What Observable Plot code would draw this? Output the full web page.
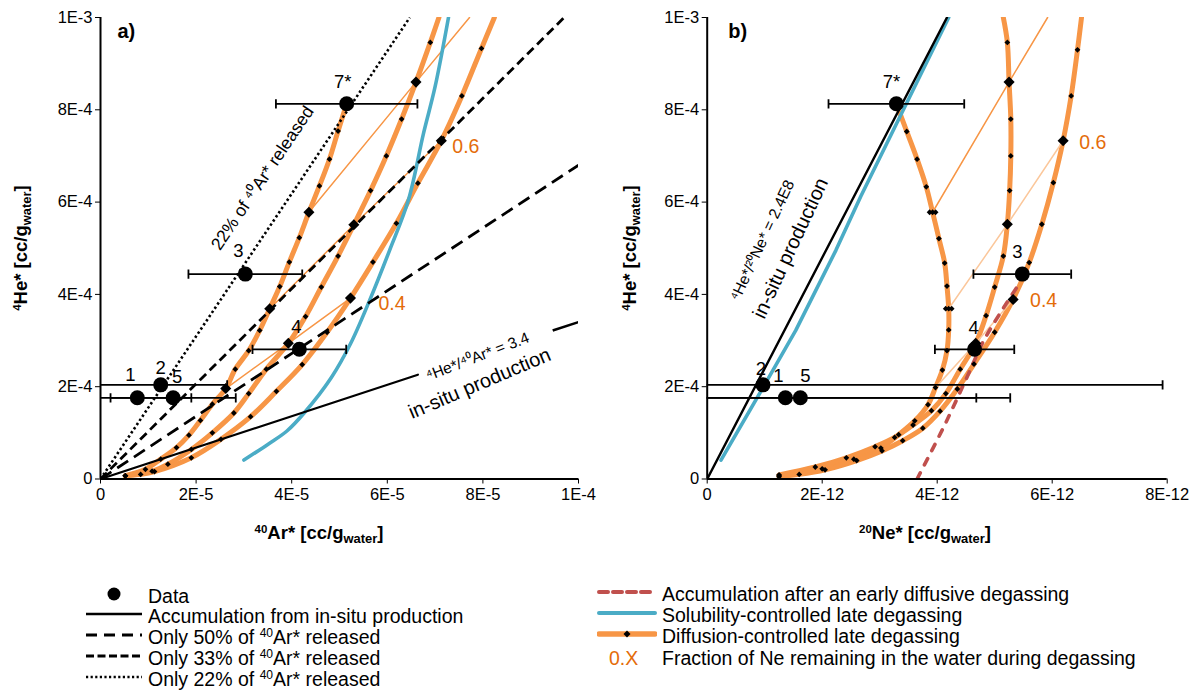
<!DOCTYPE html>
<html>
<head>
<meta charset="utf-8">
<script src="https://cdn.jsdelivr.net/npm/d3@7"></script>
<script src="https://cdn.jsdelivr.net/npm/@observablehq/plot@0.6"></script>
<style>
  body { margin: 0; background: #fff; }
  #wrap { position: relative; width: 1204px; height: 693px; font-family: "Liberation Sans", Arial, sans-serif; color: #000; }
  .panel { position: absolute; top: 0; }
  .title { position: absolute; white-space: nowrap; font-weight: bold; font-size: 18.5px; transform: translate(-50%, -50%); }
  .ytitle { transform: translate(-50%, -50%) rotate(-90deg); }
  .title sup { font-size: 0.62em; vertical-align: 0.55em; line-height: 0; }
  .title sub { font-size: 0.7em; vertical-align: -0.3em; line-height: 0; }
  .leg { position: absolute; white-space: nowrap; font-size: 19.5px; line-height: 20px; transform: translateY(-50%); }
  .leg sup { font-size: 0.62em; vertical-align: 0.6em; line-height: 0; }
  .sw { position: absolute; transform: translateY(-50%); }
</style>
</head>
<body>
<div id="wrap"></div>
<script>
// ---------------- DATA ----------------
// Panel a: x = 40Ar* in units of 1E-5 cc/g, y = 4He* in units of 1E-4 cc/g
// Panel b: x = 20Ne* in units of 1E-12 cc/g, y = 4He* in units of 1E-4 cc/g
const yTicks = [0, 2, 4, 6, 8, 10];
const yTickLabels = ["0", "2E-4", "4E-4", "6E-4", "8E-4", "1E-3"];
const aXTicks = [0, 2, 4, 6, 8, 10];
const aXTickLabels = ["0", "2E-5", "4E-5", "6E-5", "8E-5", "1E-4"];
const bXTicks = [0, 2, 4, 6, 8];
const bXTickLabels = ["0", "2E-12", "4E-12", "6E-12", "8E-12"];

// samples
const sampleIds = ["1", "2", "3", "4", "5", "7*"];
const sampleHe = [1.76, 2.04, 4.44, 2.81, 1.76, 8.13];
const sampleAr = [0.77, 1.26, 3.03, 4.16, 1.52, 5.15];
const sampleArErr = [1.13, 1.39, 1.19, 0.98, 1.31, 1.48];
const sampleNe = [1.36, 0.97, 5.48, 4.65, 1.62, 3.29];
const sampleNeErr = [3.32, 6.95, 0.85, 0.69, 3.65, 1.18];

// panel a reference lines (4He*/40Ar* = 3.4 and released fractions)
const aInSitu1 = [[0, 0], [6.64, 2.26]];
const aInSitu2 = [[9.46, 3.22], [10, 3.4]];
const aRel50 = [[0, 0], [10, 6.8]];
const aRel33 = [[0, 0], [9.7, 10]];
const aRel22 = [[0, 0], [6.47, 10]];
// panel a solubility-controlled late degassing
const aSolub = [[3.0, 0.41], [3.5, 0.75], [3.9, 1.04], [4.26, 1.43], [4.83, 2.2], [5.23, 2.93], [5.63, 3.87], [6.05, 4.96], [6.44, 6.04], [6.76, 7.5], [7.0, 8.5], [7.28, 10]];
// panel a diffusion-controlled late degassing
const aDiffA = [[0.52, 0.07], [0.94, 0.21], [1.26, 0.43], [1.59, 0.68], [1.85, 0.95], [2.09, 1.27], [2.34, 1.62], [2.62, 1.96], [2.82, 2.38], [3.10, 2.78], [3.33, 3.22], [3.54, 3.69], [3.75, 4.17], [3.95, 4.70], [4.16, 5.23], [4.36, 5.78], [4.58, 6.35], [4.79, 6.93], [4.97, 7.54], [5.15, 8.13]];
const aDiffB = [[0.52, 0.07], [1.08, 0.17], [1.41, 0.32], [1.90, 0.64], [2.34, 1.00], [2.79, 1.43], [3.10, 1.85], [3.47, 2.38], [3.93, 2.94], [4.29, 3.52], [4.62, 4.16], [4.97, 4.83], [5.30, 5.51], [5.65, 6.25], [5.98, 7.00], [6.30, 7.80], [6.60, 8.60], [6.90, 9.46], [7.08, 10]];
const aDiffC = [[0.52, 0.07], [0.84, 0.10], [1.13, 0.16], [1.90, 0.46], [2.52, 0.86], [3.14, 1.35], [3.68, 1.90], [4.22, 2.48], [4.74, 3.18], [5.23, 3.92], [5.70, 4.70], [6.19, 5.54], [6.64, 6.41], [7.13, 7.33], [7.56, 8.30], [7.97, 9.33], [8.24, 10]];
// fraction of Ne remaining (iso-lines) panel a
const aIso04 = [[2.62, 1.96], [3.93, 2.94], [5.23, 3.92]];
const aIso06 = [[3.54, 3.69], [5.30, 5.51], [7.13, 7.33]];
const aIso08 = [[4.36, 5.78], [6.60, 8.60], [7.72, 10]];

// panel b reference lines
const bInSitu = [[0, 0], [4.17, 10]];
const bSolub = [[0.24, 0.41], [0.98, 2.0], [1.54, 3.22], [2.24, 4.96], [2.67, 6.12], [3.45, 8.1], [4.2, 10]];
const bEarly = [[3.65, 0], [4.11, 1.12], [4.49, 2.13], [4.81, 3.0], [5.16, 3.72], [5.42, 4.22]];
const bDiffL = [[3.29, 8.13], [3.47, 7.53], [3.65, 6.93], [3.81, 6.33], [3.92, 5.78], [4.03, 5.21], [4.13, 4.68], [4.17, 4.18], [4.20, 3.69], [4.20, 3.23], [4.17, 2.78], [4.09, 2.36], [3.97, 1.98], [3.84, 1.61], [3.61, 1.26], [3.33, 0.96], [3.02, 0.67], [2.55, 0.43], [2.0, 0.22], [1.25, 0.07]];
const bDiffM = [[5.15, 10], [5.22, 9.46], [5.25, 8.60], [5.28, 7.80], [5.28, 7.00], [5.26, 6.25], [5.22, 5.52], [5.15, 4.83], [5.00, 4.16], [4.85, 3.54], [4.67, 2.94], [4.40, 2.38], [4.15, 1.85], [3.90, 1.48], [3.58, 1.17], [3.26, 0.90], [2.92, 0.70], [2.42, 0.46], [1.88, 0.26], [1.25, 0.09]];
const bDiffR = [[6.51, 10], [6.44, 9.30], [6.33, 8.30], [6.19, 7.33], [6.02, 6.42], [5.82, 5.52], [5.60, 4.69], [5.32, 3.89], [5.00, 3.18], [4.64, 2.49], [4.35, 1.95], [4.05, 1.47], [3.75, 1.10], [3.40, 0.83], [3.04, 0.61], [2.60, 0.40], [2.05, 0.20], [1.60, 0.10], [1.25, 0.05]];
const bIso04 = [[3.97, 1.98], [4.67, 2.94], [5.32, 3.89]];
const bIso06 = [[4.20, 3.69], [5.22, 5.52], [6.19, 7.33]];
const bIso08 = [[3.92, 5.78], [5.25, 8.60], [5.92, 10]];

// ---------------- STYLE / LAYOUT ----------------
const C = { orange: "#F79646", pale: "#FBC79B", blue: "#4BACC6", red: "#C0504D", lbl: "#E46C0A" };
const FONT = "'Liberation Sans', Arial, sans-serif";
const W = 602, H = 555, MT = 17, MB = 76.5;

const samples = sampleIds.map((id, i) => ({ id, he: sampleHe[i], ar: sampleAr[i], arErr: sampleArErr[i], ne: sampleNe[i], neErr: sampleNeErr[i] }));

const vbar = { draw(ctx, size) { const r = Math.sqrt(size / Math.PI); ctx.moveTo(0, -r); ctx.lineTo(0, r); } };
const px = d => d[0], py = d => d[1];
const fmt = (ticks, labels) => d => labels[ticks.indexOf(d)];

function line(data, o) { return Plot.line(data, { x: px, y: py, clip: true, ...o }); }
function diamonds(curves) {
  const pts = curves.flatMap(c => c.filter(p => p[1] < 9.99));
  return Plot.dot(pts, { x: px, y: py, symbol: "diamond2", r: 2.6, fill: "black", clip: true });
}
function errorBars(key, errKey) {
  const caps = samples.flatMap(s => [{ x: s[key] - s[errKey], y: s.he }, { x: s[key] + s[errKey], y: s.he }]);
  return [
    Plot.ruleY(samples, { y: "he", x1: s => s[key] - s[errKey], x2: s => s[key] + s[errKey], stroke: "black", strokeWidth: 1.8, clip: true }),
    Plot.dot(caps, { x: "x", y: "y", symbol: vbar, r: 4.6, stroke: "black", strokeWidth: 1.8, clip: true })
  ];
}
function pointLabels(key, offsets) {
  return samples.map(s => Plot.text([s], { x: key, y: "he", text: "id", dx: offsets[s.id][0], dy: offsets[s.id][1], fontSize: 18.5, fill: "black" }));
}
function axes(xTicks, xLabels) {
  return [
    Plot.axisX({ ticks: xTicks, tickFormat: fmt(xTicks, xLabels), tickSize: 5, tickPadding: 4, label: null, fontSize: 16.5 }),
    Plot.axisY({ ticks: yTicks, tickFormat: fmt(yTicks, yTickLabels), tickSize: 5, tickPadding: 3, label: null, fontSize: 16.5 }),
    Plot.ruleY([0], { strokeWidth: 2 }),
    Plot.ruleX([0], { strokeWidth: 2 })
  ];
}
const baseStyle = { fontFamily: FONT, fontSize: "16px", color: "black", background: "white", overflow: "visible" };

const orangeThick = { stroke: C.orange, strokeWidth: 5, curve: "catmull-rom", strokeLinejoin: "round", strokeLinecap: "round" };
const dashed = o => ({ stroke: "black", strokeLinecap: "butt", ...o });

// ---------- panel a ----------
const aLabelOff = { "1": [-7, -23], "2": [0, -17], "3": [-7, -23], "4": [-3, -22], "5": [4, -21], "7*": [-4, -22] };
const plotA = Plot.plot({
  width: W, height: H, marginLeft: 100, marginRight: 24, marginTop: MT, marginBottom: MB,
  x: { domain: [0, 10] }, y: { domain: [0, 10] },
  style: baseStyle,
  marks: [
    line(aDiffA, orangeThick), line(aDiffB, orangeThick), line(aDiffC, orangeThick),
    line(aIso04, { stroke: C.orange, strokeWidth: 1.5 }),
    line(aIso06, { stroke: C.orange, strokeWidth: 1.5 }),
    line(aIso08, { stroke: C.orange, strokeWidth: 1.5 }),
    line(aSolub, { stroke: C.blue, strokeWidth: 3.6, curve: "catmull-rom" }),
    line(aInSitu1, { stroke: "black", strokeWidth: 2.2 }),
    line(aInSitu2, { stroke: "black", strokeWidth: 2.6, strokeLinecap: "butt" }),
    line(aRel50, dashed({ strokeWidth: 2.8, strokeDasharray: "13,7" })),
    line(aRel33, dashed({ strokeWidth: 2.8, strokeDasharray: "9,5" })),
    line(aRel22, dashed({ strokeWidth: 2.6, strokeDasharray: "2.4,2.6" })),
    diamonds([aDiffA, aDiffB, aDiffC]),
    Plot.dot([aIso04, aIso06, aIso08].flatMap(c => c.filter(p => p[1] < 9.99)), { x: px, y: py, symbol: "diamond2", r: 5, fill: "black" }),
    ...errorBars("ar", "arErr"),
    Plot.dot(samples, { x: "ar", y: "he", r: 7.5, fill: "black" }),
    ...pointLabels("ar", aLabelOff),
    Plot.text([aIso06[2]], { x: px, y: py, text: () => "0.6", dx: 11, dy: 6, textAnchor: "start", fill: C.lbl, fontSize: 19.5 }),
    Plot.text([aIso04[2]], { x: px, y: py, text: () => "0.4", dx: 28, dy: 6, textAnchor: "start", fill: C.lbl, fontSize: 19.5 }),
    Plot.text(["22% of \u2074\u2070Ar* released"], { x: 3.39, y: 6.52, text: d => d, rotate: -56, fontSize: 17.5, fill: "black" }),
    Plot.text(["\u2074He*/\u2074\u2070Ar* = 3.4"], { x: 7.89, y: 2.65, text: d => d, rotate: -21, fontSize: 15.5, fill: "black" }),
    Plot.text(["in-situ production"], { x: 7.93, y: 2.07, text: d => d, rotate: -23, fontSize: 20, fill: "black" }),
    Plot.text(["a)"], { frameAnchor: "top-left", text: d => d, dx: 17, dy: 6, fontSize: 20, fontWeight: "bold", fill: "black" }),
    ...axes(aXTicks, aXTickLabels)
  ]
});

// ---------- panel b ----------
const bLabelOff = { "1": [-7, -22], "2": [-2, -16], "3": [-5, -22], "4": [-1, -21], "5": [5, -22], "7*": [-5, -22] };
const plotB = Plot.plot({
  width: W, height: H, marginLeft: 104.7, marginRight: 37.3, marginTop: MT, marginBottom: MB,
  x: { domain: [0, 8] }, y: { domain: [0, 10] },
  style: baseStyle,
  marks: [
    line(bDiffL, orangeThick), line(bDiffM, orangeThick), line(bDiffR, orangeThick),
    line(bIso04, { stroke: C.pale, strokeWidth: 1.5 }),
    line(bIso06, { stroke: C.pale, strokeWidth: 1.5 }),
    line(bIso08, { stroke: C.orange, strokeWidth: 1.5 }),
    line(bSolub, { stroke: C.blue, strokeWidth: 3.6 }),
    line(bInSitu, { stroke: "black", strokeWidth: 2.4 }),
    line(bEarly, { stroke: C.red, strokeWidth: 3.6, strokeDasharray: "7,9", curve: "catmull-rom" }),
    diamonds([bDiffL, bDiffM, bDiffR]),
    Plot.dot([bIso04[1], bIso04[2], bIso06[1], bIso06[2], bIso08[1]], { x: px, y: py, symbol: "diamond2", r: 5, fill: "black" }),
    Plot.dot([bIso06[0], bIso08[0]], { x: px, y: py, symbol: "diamond2", r: 2.6, fill: "black", dx: -3 }),
    Plot.dot([bIso06[0], bIso08[0]], { x: px, y: py, symbol: "diamond2", r: 2.6, fill: "black", dx: 3 }),
    ...errorBars("ne", "neErr"),
    Plot.dot(samples, { x: "ne", y: "he", r: 7.5, fill: "black" }),
    ...pointLabels("ne", bLabelOff),
    Plot.text([bIso06[2]], { x: px, y: py, text: () => "0.6", dx: 16, dy: 2, textAnchor: "start", fill: C.lbl, fontSize: 19.5 }),
    Plot.text([bIso04[2]], { x: px, y: py, text: () => "0.4", dx: 17, dy: 1, textAnchor: "start", fill: C.lbl, fontSize: 19.5 }),
    Plot.text(["\u2074He*/\u00b2\u2070Ne* = 2.4E8"], { x: 0.96, y: 5.17, text: d => d, rotate: -65, fontSize: 15.5, fill: "black" }),
    Plot.text(["in-situ production"], { x: 1.45, y: 5.0, text: d => d, rotate: -65, fontSize: 20, fill: "black" }),
    Plot.text(["b)"], { frameAnchor: "top-left", text: d => d, dx: 21, dy: 6, fontSize: 20, fontWeight: "bold", fill: "black" }),
    ...axes(bXTicks, bXTickLabels)
  ]
});

const wrap = document.getElementById("wrap");
const pa = document.createElement("div"); pa.className = "panel"; pa.style.left = "0px"; pa.appendChild(plotA); wrap.appendChild(pa);
const pb = document.createElement("div"); pb.className = "panel"; pb.style.left = "602px"; pb.appendChild(plotB); wrap.appendChild(pb);

// ---------- axis titles ----------
function addTitle(html, x, y, cls) {
  const d = document.createElement("div");
  d.className = "title" + (cls ? " " + cls : "");
  d.style.left = x + "px"; d.style.top = y + "px";
  d.innerHTML = html; wrap.appendChild(d);
}
addTitle("<sup>40</sup>Ar* [cc/g<sub>water</sub>]", 319, 533);
addTitle("<sup>20</sup>Ne* [cc/g<sub>water</sub>]", 925, 533);
addTitle("<sup>4</sup>He* [cc/g<sub>water</sub>]", 21, 248, "ytitle");
addTitle("<sup>4</sup>He* [cc/g<sub>water</sub>]", 630, 248, "ytitle");

// ---------- legend ----------
function swatch(x, y, inner) {
  const d = document.createElement("div");
  d.className = "sw"; d.style.left = x + "px"; d.style.top = y + "px";
  d.innerHTML = `<svg width="60" height="20" viewBox="0 0 60 20">${inner}</svg>`;
  wrap.appendChild(d);
}
function legText(x, y, html, color) {
  const d = document.createElement("div");
  d.className = "leg"; d.style.left = x + "px"; d.style.top = y + "px";
  if (color) d.style.color = color;
  d.innerHTML = html; wrap.appendChild(d);
}
const leftItems = [
  { y: 596, sw: `<circle cx="30" cy="10" r="6.5" fill="black"/>`, text: "Data" },
  { y: 616, sw: `<line x1="2" x2="58" y1="10" y2="10" stroke="black" stroke-width="2.6"/>`, text: "Accumulation from in-situ production" },
  { y: 637, sw: `<line x1="2" x2="58" y1="10" y2="10" stroke="black" stroke-width="3" stroke-dasharray="11,7"/>`, text: "Only 50% of <sup>40</sup>Ar* released" },
  { y: 658, sw: `<line x1="2" x2="58" y1="10" y2="10" stroke="black" stroke-width="3" stroke-dasharray="8,3.5"/>`, text: "Only 33% of <sup>40</sup>Ar* released" },
  { y: 679, sw: `<line x1="2" x2="58" y1="10" y2="10" stroke="black" stroke-width="2.6" stroke-dasharray="2.2,2.4"/>`, text: "Only 22% of <sup>40</sup>Ar* released" }
];
leftItems.forEach(it => { swatch(84, it.y, it.sw); legText(148, it.y, it.text); });
const rightItems = [
  { y: 594, sw: `<line x1="2" x2="58" y1="10" y2="10" stroke="${C.red}" stroke-width="4" stroke-dasharray="9,5" stroke-linecap="round"/>`, text: "Accumulation after an early diffusive degassing" },
  { y: 615, sw: `<line x1="2" x2="58" y1="10" y2="10" stroke="${C.blue}" stroke-width="4" stroke-linecap="round"/>`, text: "Solubility-controlled late degassing" },
  { y: 636, sw: `<line x1="2" x2="58" y1="10" y2="10" stroke="${C.orange}" stroke-width="5.5" stroke-linecap="round"/><path d="M30,6.5 L33.5,10 L30,13.5 L26.5,10 Z" fill="black"/>`, text: "Diffusion-controlled late degassing" }
];
rightItems.forEach(it => { swatch(597, it.y, it.sw); legText(662, it.y, it.text); });
legText(609, 658, "0.X", C.lbl);
legText(662, 658, "Fraction of Ne remaining in the water during degassing");
</script>
</body>
</html>
